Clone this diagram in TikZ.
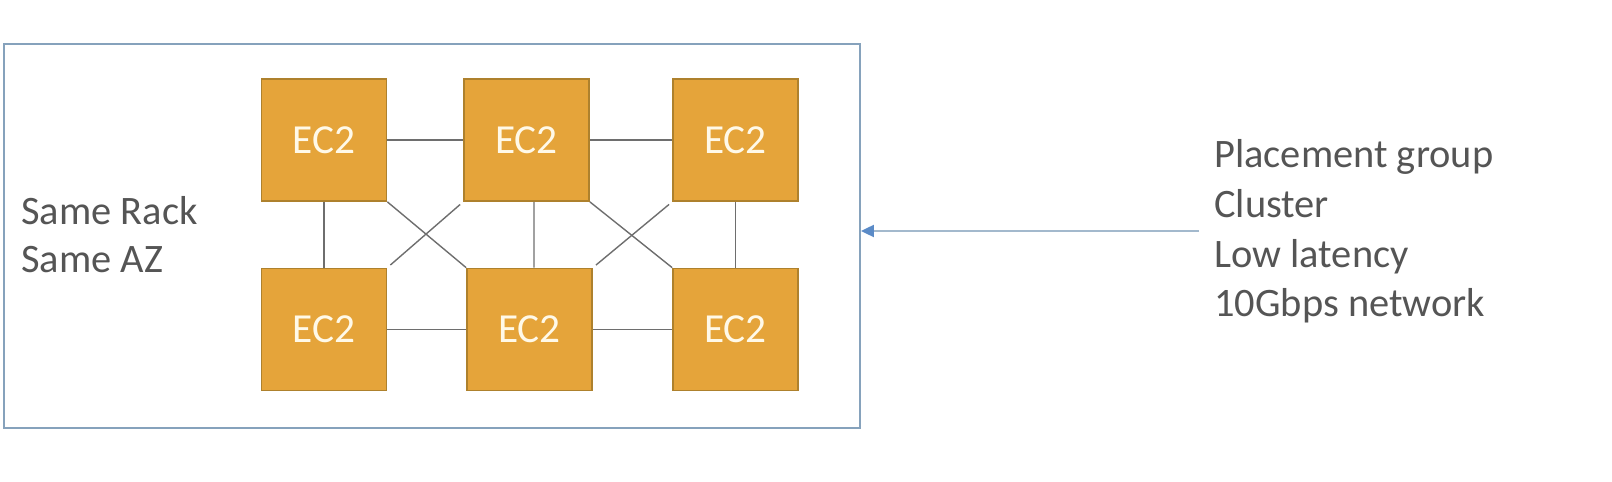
\documentclass[tikz,border=0pt]{standalone}
\usepackage{fontspec}
\setmainfont{Carlito}
\usetikzlibrary{arrows.meta}
\definecolor{boxfill}{HTML}{E5A43A}
\definecolor{boxedge}{HTML}{AE812D}
\definecolor{ectext}{HTML}{FFF9E8}
\definecolor{linkgray}{HTML}{6E6E6E}
\definecolor{frameblue}{HTML}{86A2BC}
\definecolor{arrowline}{HTML}{A3B9CD}
\definecolor{arrowtip}{HTML}{5B8BC7}
\definecolor{txtgray}{HTML}{555555}
\tikzset{
  ec2box/.style={draw=boxedge, fill=boxfill, line width=0.035cm,
    minimum width=2.5cm, minimum height=2.44cm, inner sep=0pt,
    text=ectext, font=\fontsize{23.5}{28}\selectfont},
  link/.style={draw=linkgray, line width=0.028cm},
  gap/.style={shorten >=0.08cm, shorten <=0.08cm},
  frame/.style={draw=frameblue, line width=0.04cm},
  txt/.style={anchor=base west, inner sep=0pt, text=txtgray,
    font=\fontsize{23}{28}\selectfont}
}
\begin{document}
\begin{tikzpicture}[x=0.02cm,y=-0.02cm]
\useasboundingbox (0,0) rectangle (1612,482);
% container
\node[frame, minimum width=17.12cm, minimum height=7.68cm, inner sep=0pt] (container) at (432,236) {};
% instances
\node[ec2box] (TL) at (324,140) {EC2};
\node[ec2box] (TM) at (526.5,140) {EC2};
\node[ec2box] (TR) at (735.5,140) {EC2};
\node[ec2box] (BL) at (324,329.5) {EC2};
\node[ec2box] (BM) at (529.5,329.5) {EC2};
\node[ec2box] (BR) at (735.5,329.5) {EC2};
% links
\draw[link] (TL.east) -- (TM.west);
\draw[link] (TM.east) -- (TR.west);
\draw[link] (BL.east) -- (BM.west);
\draw[link] (BM.east) -- (BR.west);
\draw[link] (TL.south) -- (BL.north);
\draw[link] ([xshift=0.15cm]TM.south) -- ([xshift=0.09cm]BM.north);
\draw[link] (TR.south) -- (BR.north);
\draw[link] (TL.south east) -- (BM.north west);
\draw[link, gap] (BL.north east) -- (TM.south west);
\draw[link] (TM.south east) -- (BR.north west);
\draw[link, gap] (BM.north east) -- (TR.south west);
% left text
\node[txt] (rack) at (21,225) {Same Rack};
\node[txt] (az) at (21,273) {Same AZ};
% right text
\node[txt] (pg) at (1214,168) {Placement group};
\node[txt] (cl) at (1214,218) {Cluster};
\node[txt] (ll) at (1214,268) {Low latency};
\node[txt] (net) at (1214,317) {10Gbps network};
% arrow
\coordinate (astart) at (1199,231);
\draw[draw=arrowline, line width=0.04cm,
  -{Triangle[length=0.26cm, width=0.24cm, color=arrowtip]}]
  (astart) -- (astart -| container.east);
\end{tikzpicture}
\end{document}
